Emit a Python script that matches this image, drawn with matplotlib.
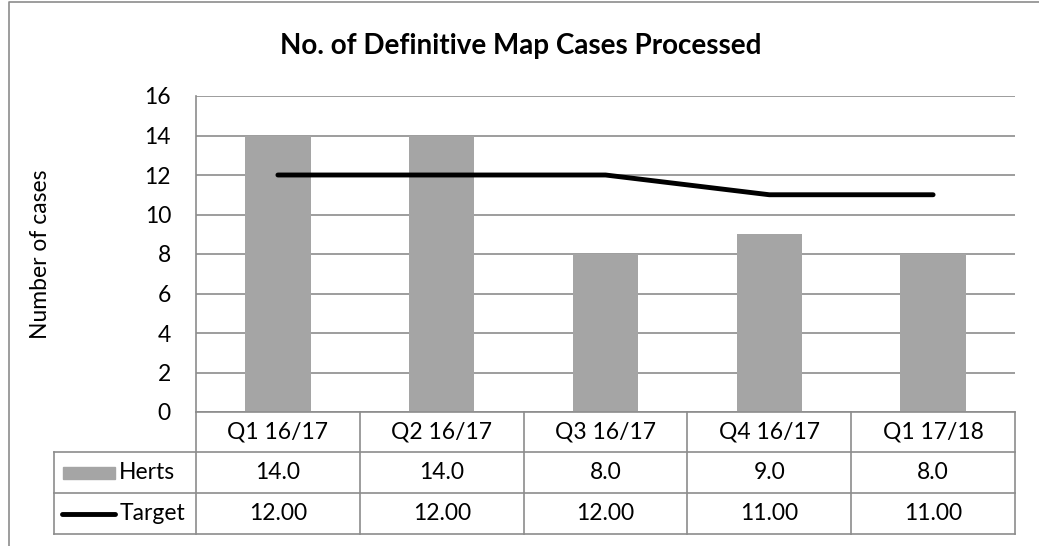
import matplotlib.pyplot as plt
import numpy as np
from matplotlib.lines import Line2D
from matplotlib.patches import Rectangle

# ----- Data -----
quarters = ['Q1 16/17', 'Q2 16/17', 'Q3 16/17', 'Q4 16/17', 'Q1 17/18']
herts = [14.0, 14.0, 8.0, 9.0, 8.0]
target = [12.0, 12.0, 12.0, 11.0, 11.0]

W, H = 1039, 546
bar_col = '#A5A5A5'
grid_col = '#8C8C8C'
fs = 16.5
plt.rcParams['font.family'] = ['Lato', 'DejaVu Sans']

fig = plt.figure(figsize=(W / 100, H / 100), dpi=100)


def fx(px):
    return px / W


def fy(py):
    return 1 - py / H


# plot area in pixel coords
left, right, top, bottom = 196, 1015, 96, 412
ax = fig.add_axes([fx(left), fy(bottom), fx(right - left), fy(top) - fy(bottom)])

x = np.arange(len(quarters))
ax.bar(x, herts, width=0.4, color=bar_col, zorder=2)
ax.plot(x, target, color='black', lw=3.5, solid_capstyle='round', zorder=3)

ax.set_xlim(-0.5, len(quarters) - 0.5)
ax.set_ylim(0, 16)
ax.set_yticks(range(0, 17, 2))
ax.yaxis.grid(True, color=grid_col, lw=1.2, zorder=0)
ax.set_xticks([])
ax.tick_params(axis='y', length=0, pad=18, labelsize=fs)
for s in ['top', 'right', 'bottom']:
    ax.spines[s].set_visible(False)
ax.spines['left'].set_color(grid_col)
ax.spines['left'].set_linewidth(1.2)
ax.set_ylabel('Number of cases', fontsize=fs)
ax.yaxis.set_label_coords(fx(51 - left) / fx(right - left), 0.5)

fig.suptitle('No. of Definitive Map Cases Processed', x=fx(521), y=fy(33),
             fontsize=20, fontweight='bold', va='top')

# ----- Data table below the axes -----
row_y = [412, 452, 493, 534]
col_w = (right - left) / len(quarters)
col_x = [left + i * col_w for i in range(len(quarters) + 1)]
tbl_left = 54


def hline(x0, x1, y):
    fig.add_artist(Line2D([fx(x0), fx(x1)], [fy(y), fy(y)], color=grid_col, lw=1.2))


def vline(x0, y0, y1):
    fig.add_artist(Line2D([fx(x0), fx(x0)], [fy(y0), fy(y1)], color=grid_col, lw=1.2))


hline(left, right, row_y[0])
for y in row_y[1:]:
    hline(tbl_left, right, y)
vline(tbl_left, row_y[1], row_y[3])
for cx in col_x:
    vline(cx, row_y[0], row_y[3])

rows = [quarters,
        [f'{v:.1f}' for v in herts],
        [f'{v:.2f}' for v in target]]
for r, vals in enumerate(rows):
    yc = (row_y[r] + row_y[r + 1]) / 2
    for i, v in enumerate(vals):
        fig.text(fx(col_x[i] + col_w / 2), fy(yc), v, ha='center', va='center', fontsize=fs)

# legend keys in the row headers
yc = (row_y[1] + row_y[2]) / 2
fig.add_artist(Rectangle((fx(63), fy(yc + 6)), fx(52), fy(0) - fy(12), color=bar_col,
                         transform=fig.transFigure))
fig.text(fx(119), fy(yc), 'Herts', ha='left', va='center', fontsize=fs)
yc = (row_y[2] + row_y[3]) / 2
fig.add_artist(Line2D([fx(62), fx(115)], [fy(yc), fy(yc)], color='black', lw=3.5,
                      solid_capstyle='round'))
fig.text(fx(120), fy(yc), 'Target', ha='left', va='center', fontsize=fs)

# chart border (only left and top visible in the crop)
fig.add_artist(Line2D([fx(9), fx(9), fx(W)], [0, fy(2), fy(2)], color=grid_col, lw=1.2))

fig.savefig('out.png', dpi=100)
